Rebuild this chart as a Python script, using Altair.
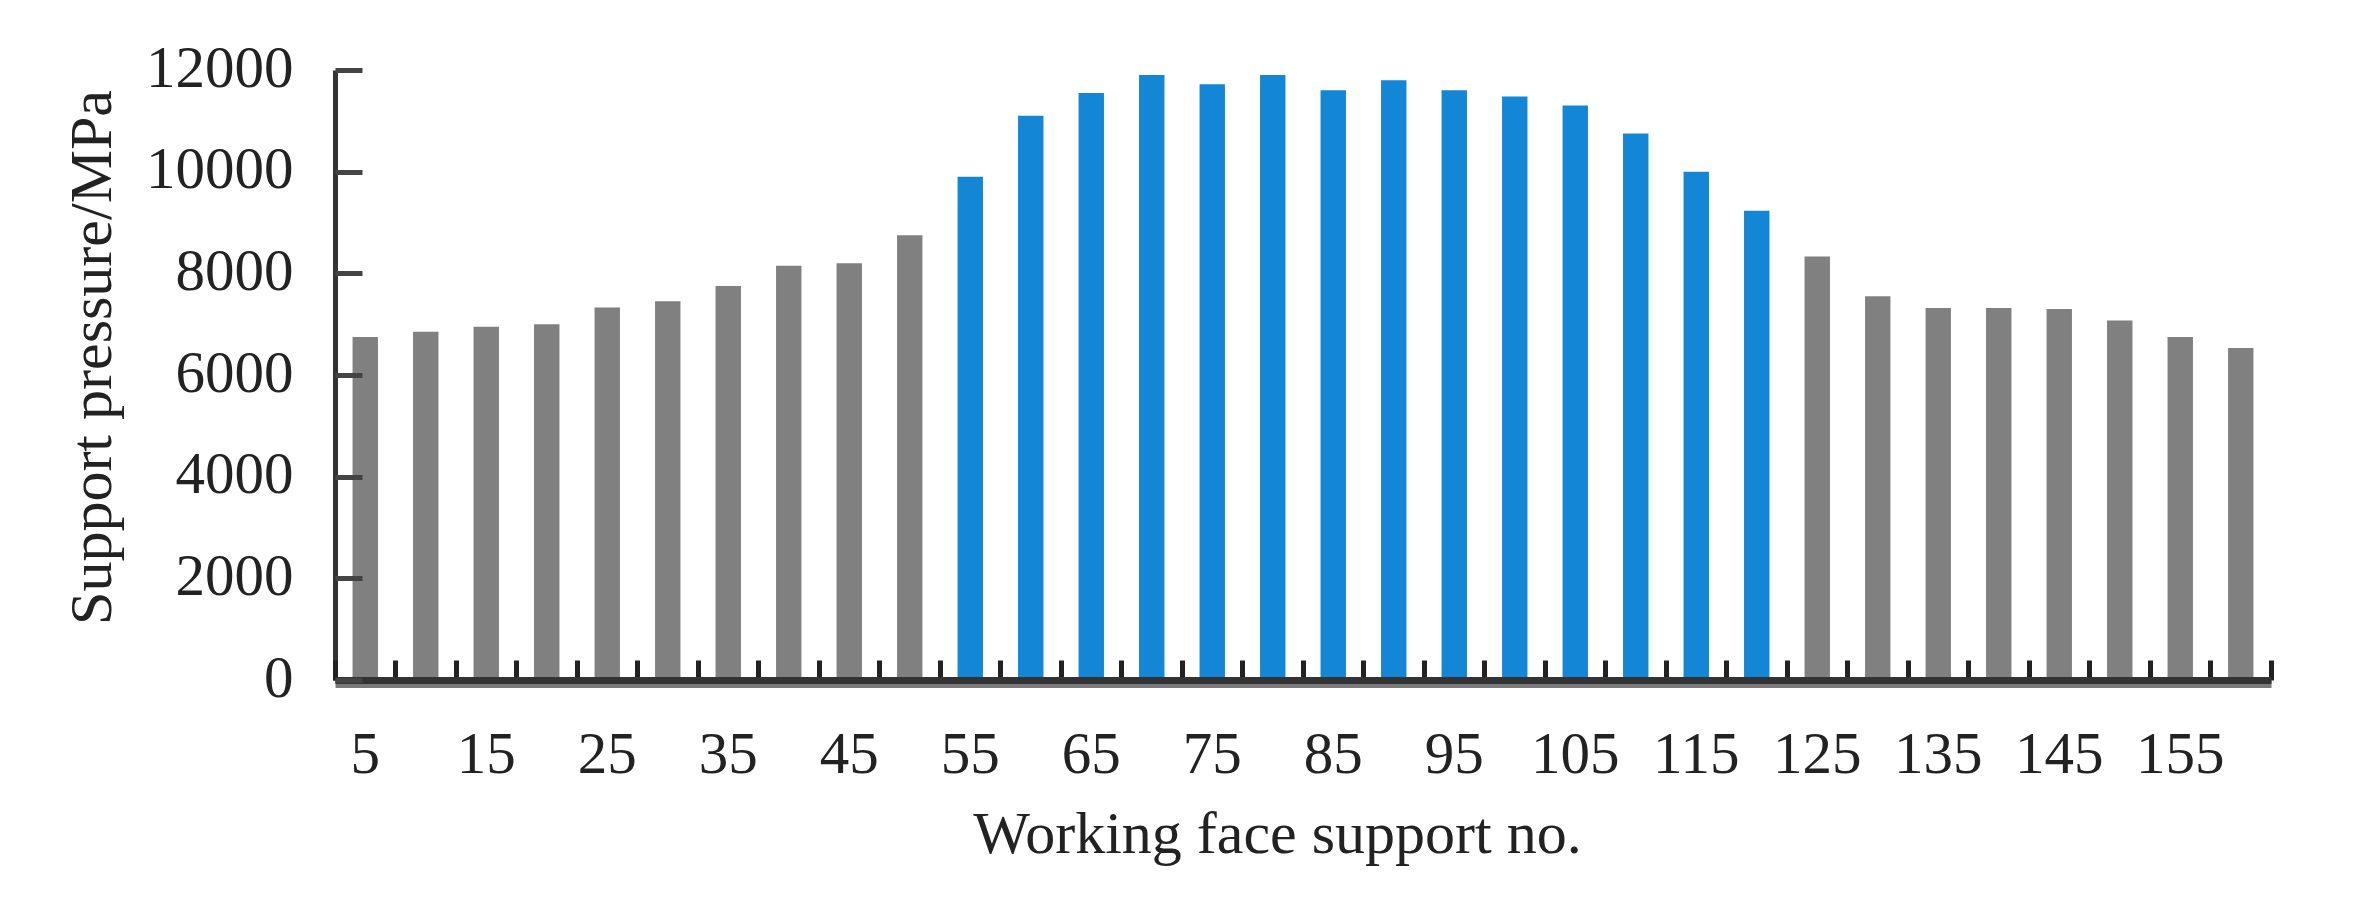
import altair as alt
import pandas as pd

support_no = [5, 10, 15, 20, 25, 30, 35, 40, 45, 50, 55, 60, 65, 70, 75, 80,
              85, 90, 95, 100, 105, 110, 115, 120, 125, 130, 135, 140, 145, 150, 155, 160]
pressure = [6750, 6850, 6950, 7000, 7330, 7450, 7750, 8150, 8200, 8750, 9900, 11100,
            11550, 11900, 11720, 11900, 11600, 11800, 11600, 11480, 11300, 10750, 10000, 9230,
            8330, 7550, 7320, 7320, 7300, 7070, 6750, 6530]
highlight = [55, 60, 65, 70, 75, 80, 85, 90, 95, 100, 105, 110, 115, 120]
x_labels = [5, 15, 25, 35, 45, 55, 65, 75, 85, 95, 105, 115, 125, 135, 145, 155]
y_ticks = [0, 2000, 4000, 6000, 8000, 10000, 12000]

df = pd.DataFrame({
    "no": support_no,
    "p": pressure,
    "grp": ["high" if n in highlight else "normal" for n in support_no],
})

FONT = "Liberation Serif"
TXT = "#222222"
W, H = 1936, 610

xscale = alt.Scale(type="band", paddingInner=0, paddingOuter=0)
yscale = alt.Scale(domain=[0, 12000], nice=False, zero=True)
cscale = alt.Scale(domain=["normal", "high"], range=["#808080", "#1486d6"])

base = alt.Chart(df)

bars = base.mark_bar(width=alt.RelativeBandSize(0.42)).encode(
    x=alt.X("no:O", sort=support_no, scale=xscale,
            axis=alt.Axis(values=x_labels, ticks=False, labelAngle=0,
                          labelFont=FONT, labelFontSize=59, labelColor=TXT,
                          labelBaseline="alphabetic", labelPadding=88,
                          domain=True, domainColor="#7a7a7a", domainWidth=7, offset=4,
                          title="Working face support no.", titleFont=FONT,
                          titleFontSize=60, titleFontWeight="normal", titleColor=TXT,
                          titleBaseline="alphabetic", titleX=942, titleY=168,
                          zindex=1)),
    y=alt.Y("p:Q", scale=yscale,
            axis=alt.Axis(values=y_ticks, ticks=False, grid=False, format="d",
                          labelFont=FONT, labelFontSize=59, labelColor=TXT,
                          labelBaseline="alphabetic", labelOffset=16, labelPadding=42,
                          domain=True, domainColor="#333333", domainWidth=5,
                          title="Support pressure/MPa", titleFont=FONT, titleFontSize=60,
                          titleFontWeight="normal", titleColor=TXT, titleAngle=270,
                          titleBaseline="alphabetic", titleAlign="center",
                          titleX=-225, titleY=287, zindex=1)),
    color=alt.Color("grp:N", scale=cscale, legend=None),
)

tick_layer = base.mark_bar(width=alt.RelativeBandSize(0.42), opacity=0).encode(
    x=alt.X("no:O", sort=support_no, scale=xscale,
            axis=alt.Axis(orient="top", offset=-H, labels=False, ticks=True,
                          tickSize=20, tickWidth=5, tickColor="#222222",
                          bandPosition=1, tickExtra=True,
                          domain=True, domainColor="#333333", domainWidth=7,
                          title=None, zindex=2)),
    y=alt.Y("p:Q", scale=yscale,
            axis=alt.Axis(orient="right", offset=-W, labels=False, ticks=True,
                          values=y_ticks, tickSize=27, tickWidth=5, tickColor="#444444",
                          domain=False, grid=False, title=None, zindex=2)),
)

chart = (
    alt.layer(bars, tick_layer)
    .resolve_scale(x="shared", y="shared")
    .resolve_axis(x="independent", y="independent")
    .properties(
        width=W, height=H,
        autosize=alt.AutoSizeParams(type="none"),
        padding={"left": 327, "top": 62, "right": 70, "bottom": 220},
        background="white",
    )
    .configure_view(stroke=None)
)

chart.save("out.html", embed_options={"renderer": "svg", "actions": False})
